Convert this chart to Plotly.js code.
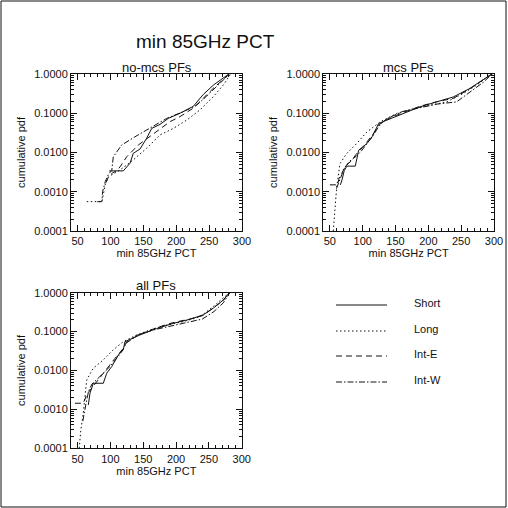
<!DOCTYPE html>
<html>
<head>
<meta charset="utf-8">
<script src="https://cdn.plot.ly/plotly-3.0.1.min.js"></script>
<style>
  html, body { margin: 0; padding: 0; background: #fff; }
  #chart { width: 508px; height: 508px; }
</style>
</head>
<body>
<div id="chart"></div>
<script>
// Cumulative pdf of minimum 85GHz PCT for four storm categories

const seriesNames = ['Short', 'Long', 'Int-E', 'Int-W'];
const xTickVals = [50, 100, 150, 200, 250, 300];
const yTickVals = [0.0001, 0.001, 0.01, 0.1, 1];
const yTickText = ['0.0001', '0.0010', '0.0100', '0.1000', '1.0000'];

// no-mcs PFs
const nomcsShortX = [98, 119.5, 129.7, 134.7, 145, 155, 162.7, 175.3, 188, 205.7, 226, 241, 256.4, 280];
const nomcsShortY = [0.0034, 0.0034, 0.0053, 0.0095, 0.0123, 0.023, 0.041, 0.052, 0.074, 0.100, 0.15, 0.30, 0.52, 1.0];
const nomcsLongX = [64, 87, 89, 92, 97, 114.5, 124.7, 134.7, 155, 175.3, 195.5, 216, 236, 256.4, 271.6, 282.8];
const nomcsLongY = [0.00056, 0.00056, 0.00083, 0.0015, 0.0024, 0.0036, 0.0048, 0.0065, 0.0128, 0.028, 0.041, 0.067, 0.121, 0.264, 0.525, 1.0];
const nomcsIntEX = [93, 97, 103, 110, 114.5, 124.7, 142.3, 162.7, 190.5, 205.7, 226, 241, 258, 281];
const nomcsIntEY = [0.0017, 0.0024, 0.003, 0.0035, 0.0043, 0.0078, 0.0155, 0.028, 0.061, 0.082, 0.135, 0.24, 0.46, 1.0];
const nomcsIntWX = [80, 87, 88, 92, 97, 102, 104.3, 117, 137, 160, 185.5, 211, 231, 246, 262, 281];
const nomcsIntWY = [0.00056, 0.00056, 0.001, 0.0018, 0.0028, 0.0035, 0.0078, 0.0155, 0.025, 0.041, 0.074, 0.11, 0.16, 0.27, 0.48, 1.0];

// mcs PFs
const mcsShortX = [66, 68.5, 72, 76, 88.7, 93.9, 106.6, 114.2, 124.4, 136.6, 161.8, 187.3, 212.7, 238, 263.4, 283.7, 296.5];
const mcsShortY = [0.0015, 0.0020, 0.0035, 0.0045, 0.0045, 0.0115, 0.017, 0.025, 0.055, 0.066, 0.099, 0.146, 0.195, 0.26, 0.43, 0.70, 1.0];
const mcsLongX = [55.2, 58, 60.4, 65.4, 75.6, 90.9, 106.1, 126.4, 151.8, 177, 202.5, 227.9, 253.2, 273.6, 294, 298];
const mcsLongY = [0.0001, 0.0004, 0.0013, 0.0052, 0.0094, 0.017, 0.033, 0.060, 0.099, 0.13, 0.16, 0.195, 0.32, 0.52, 0.93, 1.0];
const mcsIntEX = [50, 62, 64, 68, 74, 82, 90, 100, 110, 118, 124, 137, 162, 187, 212, 238, 263, 284, 297];
const mcsIntEY = [0.0015, 0.0015, 0.0022, 0.003, 0.0045, 0.006, 0.009, 0.0135, 0.022, 0.033, 0.05, 0.07, 0.105, 0.15, 0.195, 0.24, 0.42, 0.70, 1.0];
const mcsIntWX = [60, 63, 67, 72, 80, 90, 98, 108, 116, 124, 135, 160, 187, 212, 243, 263, 284, 297];
const mcsIntWY = [0.0012, 0.0016, 0.0025, 0.004, 0.006, 0.008, 0.011, 0.018, 0.027, 0.045, 0.07, 0.11, 0.14, 0.17, 0.195, 0.35, 0.62, 1.0];

// all PFs
const allShortX = [66.4, 68.9, 74, 89.2, 94.4, 102, 112, 119.6, 122.2, 145, 170.5, 195.8, 221, 241.5, 256.7, 272, 281];
const allShortY = [0.0013, 0.0026, 0.0047, 0.0047, 0.0085, 0.0126, 0.025, 0.034, 0.055, 0.082, 0.12, 0.163, 0.207, 0.27, 0.40, 0.65, 1.0];
const allLongX = [52.6, 55, 58.7, 63.9, 74, 89.2, 104.4, 119.6, 140, 160.3, 185.7, 211, 236.5, 256.7, 277, 282];
const allLongY = [0.0001, 0.0003, 0.0008, 0.0057, 0.0115, 0.0187, 0.034, 0.055, 0.082, 0.11, 0.148, 0.18, 0.24, 0.44, 0.87, 1.0];
const allIntEX = [46, 58.7, 63.9, 71.5, 76.6, 84.2, 94.4, 107, 119.6, 124.8, 145, 170, 195, 221, 241, 257, 272, 281];
const allIntEY = [0.00144, 0.00144, 0.0024, 0.0035, 0.0047, 0.0069, 0.0115, 0.0206, 0.037, 0.055, 0.085, 0.125, 0.17, 0.21, 0.26, 0.40, 0.63, 1.0];
const allIntWX = [58, 61, 64, 67, 72, 80, 90, 100, 110, 118, 124, 140, 165, 190, 215, 240, 258, 272, 282];
const allIntWY = [0.0005, 0.0011, 0.0018, 0.003, 0.0045, 0.006, 0.009, 0.013, 0.021, 0.032, 0.05, 0.08, 0.11, 0.135, 0.165, 0.21, 0.33, 0.55, 1.0];

const W = 508, H = 508;
const FONT = 'Liberation Sans, Arial, sans-serif';
const INK = '#111';

// line styles per category
const dashes = ['solid', '1.5px,2.5px', '6px,4px', '6px,2px,1.5px,2px'];

const panels = [
  { name: 'no-mcs PFs', xa: 'x', ya: 'y', px: [71, 242], py: [74, 231],
    data: [[nomcsShortX, nomcsShortY], [nomcsLongX, nomcsLongY], [nomcsIntEX, nomcsIntEY], [nomcsIntWX, nomcsIntWY]] },
  { name: 'mcs PFs', xa: 'x2', ya: 'y2', px: [323.3, 494], py: [74, 231],
    data: [[mcsShortX, mcsShortY], [mcsLongX, mcsLongY], [mcsIntEX, mcsIntEY], [mcsIntWX, mcsIntWY]] },
  { name: 'all PFs', xa: 'x3', ya: 'y3', px: [71, 241.7], py: [292.7, 448.3],
    data: [[allShortX, allShortY], [allLongX, allLongY], [allIntEX, allIntEY], [allIntWX, allIntWY]] }
];

const traces = [];
panels.forEach(p => {
  p.data.forEach((d, i) => {
    traces.push({
      x: d[0], y: d[1], type: 'scatter', mode: 'lines',
      name: seriesNames[i], showlegend: false,
      xaxis: p.xa, yaxis: p.ya,
      line: { color: INK, width: 1, dash: dashes[i] },
      hoverinfo: 'skip'
    });
  });
});

const minorY = [];
for (let e = -4; e < 0; e++) {
  for (let k = 2; k <= 9; k++) minorY.push(k * Math.pow(10, e));
}

function xAxis(p, yName) {
  return {
    domain: [p.px[0] / W, p.px[1] / W], anchor: yName,
    range: [40, 300], tickmode: 'array', tickvals: xTickVals,
    ticks: 'inside', ticklen: 6, tickwidth: 1, tickcolor: INK,
    minor: { ticks: 'inside', ticklen: 3, tickwidth: 1, tickcolor: INK, tickmode: 'linear', tick0: 0, dtick: 10, showgrid: false },
    mirror: 'ticks', showline: true, linecolor: INK, linewidth: 1,
    showgrid: false, zeroline: false,
    tickfont: { family: FONT, size: 11, color: INK },
    title: { text: 'min 85GHz PCT', font: { family: FONT, size: 11, color: INK }, standoff: 3 }
  };
}
function yAxis(p, xName) {
  return {
    domain: [1 - p.py[1] / H, 1 - p.py[0] / H], anchor: xName,
    type: 'log', range: [-4, 0], tickmode: 'array', tickvals: yTickVals, ticktext: yTickText,
    ticks: 'inside', ticklen: 6, tickwidth: 1, tickcolor: INK,
    minor: { ticks: 'inside', ticklen: 3, tickwidth: 1, tickcolor: INK, tickmode: 'array', tickvals: minorY, showgrid: false },
    mirror: 'ticks', showline: true, linecolor: INK, linewidth: 1,
    showgrid: false, zeroline: false,
    tickfont: { family: FONT, size: 11, color: INK },
    title: { text: 'cumulative pdf', font: { family: FONT, size: 11, color: INK }, standoff: 6 }
  };
}

const layout = {
  width: W, height: H,
  margin: { l: 0, r: 0, t: 0, b: 0, pad: 0 },
  paper_bgcolor: '#fff', plot_bgcolor: '#fff',
  showlegend: false,
  xaxis: xAxis(panels[0], 'y'), yaxis: yAxis(panels[0], 'x'),
  xaxis2: xAxis(panels[1], 'y2'), yaxis2: yAxis(panels[1], 'x2'),
  xaxis3: xAxis(panels[2], 'y3'), yaxis3: yAxis(panels[2], 'x3'),
  annotations: [],
  shapes: []
};

// figure title
layout.annotations.push({
  text: 'min 85GHz PCT', xref: 'paper', yref: 'paper',
  x: 205 / W, y: 1 - 42 / H, xanchor: 'center', yanchor: 'middle',
  showarrow: false, font: { family: FONT, size: 19, color: INK }
});

// panel titles
panels.forEach(p => {
  layout.annotations.push({
    text: p.name, xref: 'paper', yref: 'paper',
    x: (p.px[0] + p.px[1]) / 2 / W, y: 1 - (p.py[0] - 7) / H,
    xanchor: 'center', yanchor: 'middle', showarrow: false,
    font: { family: FONT, size: 13, color: INK }
  });
});

// key for the four line styles
const keyY = [305, 331, 356, 382];
seriesNames.forEach((n, i) => {
  layout.shapes.push({
    type: 'line', xref: 'paper', yref: 'paper',
    x0: 336 / W, x1: 387 / W, y0: 1 - keyY[i] / H, y1: 1 - keyY[i] / H,
    line: { color: INK, width: 1, dash: dashes[i] }
  });
  layout.annotations.push({
    text: n, xref: 'paper', yref: 'paper',
    x: 412 / W, y: 1 - (keyY[i] - 2) / H, xanchor: 'left', yanchor: 'middle',
    showarrow: false, font: { family: FONT, size: 11, color: INK }
  });
});

// outer frame
layout.shapes.push({
  type: 'rect', xref: 'paper', yref: 'paper',
  x0: 1 / W, x1: 506 / W, y0: 1 / H, y1: 507 / H,
  line: { color: INK, width: 1 }
});

Plotly.newPlot('chart', traces, layout, { staticPlot: true, displayModeBar: false });
</script>
</body>
</html>
